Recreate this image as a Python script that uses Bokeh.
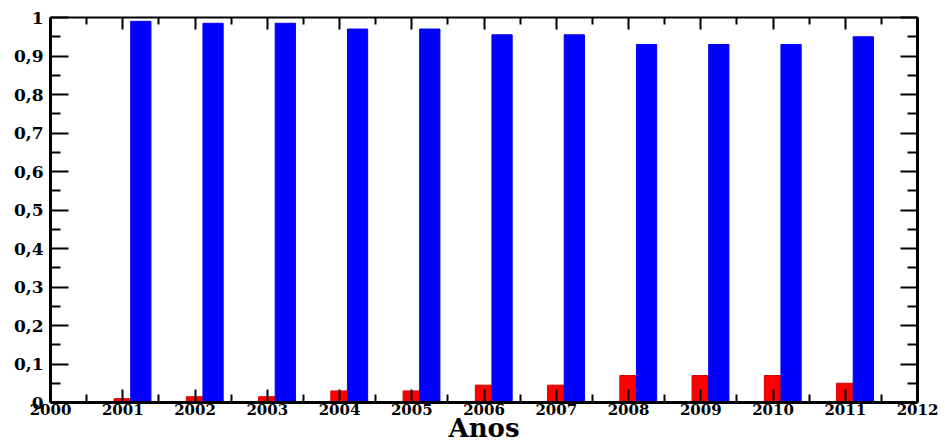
from bokeh.plotting import figure
from bokeh.models import Range1d, FixedTicker, LinearAxis, ColumnDataSource
from bokeh.transform import dodge
from bokeh.embed import file_html
from bokeh.resources import INLINE

years = [2001, 2002, 2003, 2004, 2005, 2006, 2007, 2008, 2009, 2010, 2011]
red_vals = [0.01, 0.015, 0.015, 0.03, 0.03, 0.045, 0.045, 0.07, 0.07, 0.07, 0.05]
blue_vals = [0.99, 0.985, 0.985, 0.97, 0.97, 0.955, 0.955, 0.93, 0.93, 0.93, 0.95]

x_ticks = [2000, 2001, 2002, 2003, 2004, 2005, 2006, 2007, 2008, 2009, 2010, 2011, 2012]
x_minor = [2000.5, 2001.5, 2002.5, 2003.5, 2004.5, 2005.5, 2006.5, 2007.5, 2008.5, 2009.5, 2010.5, 2011.5]
y_ticks = [0, 0.1, 0.2, 0.3, 0.4, 0.5, 0.6, 0.7, 0.8, 0.9, 1]
y_labels = ["0", "0,1", "0,2", "0,3", "0,4", "0,5", "0,6", "0,7", "0,8", "0,9", "1"]
y_minor = [0.05, 0.15, 0.25, 0.35, 0.45, 0.55, 0.65, 0.75, 0.85, 0.95]
x_title = "Anos"

src = ColumnDataSource(dict(year=years, red=red_vals, blue=blue_vals))

p = figure(width=945, height=445, output_backend="svg", toolbar_location=None,
           x_range=Range1d(2000, 2012), y_range=Range1d(0, 1),
           min_border_left=50, min_border_right=28, min_border_top=17, min_border_bottom=30)
p.xgrid.visible = False
p.ygrid.visible = False
p.outline_line_color = None
p.background_fill_color = "white"

p.vbar(x=dodge("year", 0.0, range=p.x_range), top="red", width=0.24, bottom=0,
       source=src, fill_color="#ff0000", line_color="#d40000", line_width=1)
p.vbar(x=dodge("year", 0.25, range=p.x_range), top="blue", width=0.28, bottom=0,
       source=src, fill_color="#0000ff", line_color="#0000ee", line_width=1)

font = "DejaVu Serif"

xax = p.xaxis[0]
xax.ticker = FixedTicker(ticks=x_ticks, minor_ticks=x_minor)
xax.major_label_overrides = {t: str(t) for t in x_ticks}
xax.axis_line_width = 3
xax.major_tick_in = 13
xax.major_tick_out = 0
xax.minor_tick_in = 8
xax.minor_tick_out = 0
xax.major_tick_line_width = 2
xax.minor_tick_line_width = 2
xax.major_label_text_font = font
xax.major_label_text_font_style = "bold"
xax.major_label_text_font_size = "15px"
xax.major_label_text_color = "black"
xax.major_label_standoff = 1
xax.axis_label = x_title
xax.axis_label_text_font = font
xax.axis_label_text_font_style = "bold"
xax.axis_label_text_font_size = "26px"
xax.axis_label_text_color = "black"
xax.axis_label_standoff = -5

yax = p.yaxis[0]
yax.ticker = FixedTicker(ticks=y_ticks, minor_ticks=y_minor)
yax.major_label_overrides = {t: l for t, l in zip(y_ticks, y_labels)}
yax.axis_line_width = 3
yax.major_tick_in = 18
yax.major_tick_out = 0
yax.minor_tick_in = 10
yax.minor_tick_out = 0
yax.major_tick_line_width = 2
yax.minor_tick_line_width = 2
yax.major_label_text_font = font
yax.major_label_text_font_style = "bold"
yax.major_label_text_font_size = "17px"
yax.major_label_text_color = "black"
yax.major_label_standoff = 7

top = LinearAxis(ticker=FixedTicker(ticks=x_ticks, minor_ticks=x_minor))
top.major_label_overrides = {t: "" for t in x_ticks}
top.axis_line_width = 2
top.major_tick_in = 12
top.major_tick_out = 0
top.minor_tick_in = 7
top.minor_tick_out = 0
top.major_tick_line_width = 2
top.minor_tick_line_width = 2
top.major_label_standoff = 0
p.add_layout(top, "above")

right = LinearAxis(ticker=FixedTicker(ticks=y_ticks, minor_ticks=y_minor))
right.major_label_overrides = {t: "" for t in y_ticks}
right.axis_line_width = 3
right.major_tick_in = 17
right.major_tick_out = 0
right.minor_tick_in = 10
right.minor_tick_out = 0
right.major_tick_line_width = 2
right.minor_tick_line_width = 2
right.major_label_standoff = 0
p.add_layout(right, "right")

open("out.html", "w").write(file_html(p, INLINE))
